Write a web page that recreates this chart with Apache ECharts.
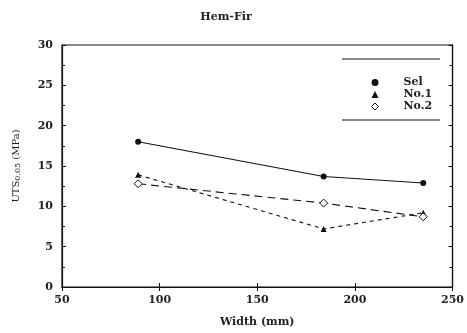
<!DOCTYPE html>
<html><head><meta charset="utf-8">
<script src="https://cdn.jsdelivr.net/npm/echarts@6/dist/echarts.min.js"></script>
<style>html,body{margin:0;padding:0;background:#fff}#c{width:467px;height:333px}</style>
</head><body><div id="c"></div>
<script>
const widths = [89, 184, 235];
const selValues = [18.0, 13.7, 12.9];
const no1Values = [13.9, 7.2, 9.2];
const no2Values = [12.8, 10.4, 8.7];
const seriesNames = ['Sel', 'No.1', 'No.2'];
const xTicks = [50, 100, 150, 200, 250];
const yTicks = [0, 5, 10, 15, 20, 25, 30];

const font = 'DejaVu Serif';
const pairs = v => widths.map((w, i) => [w, v[i]]);
const chart = echarts.init(document.getElementById('c'));
chart.setOption({
  animation: false,
  backgroundColor: '#fff',
  title: {text: 'Hem-Fir', left: 221, top: 7, textAlign: 'center',
    textStyle: {fontFamily: font, fontSize: 11, fontWeight: 'bold', color: '#222'}},
  grid: {left: 62, right: 13, top: 45, bottom: 46, show: true, borderColor: '#111', borderWidth: 1.2},
  legend: {
    orient: 'vertical', left: 366, top: 72, itemGap: 1, itemWidth: 7, itemHeight: 7,
    textStyle: {fontFamily: font, fontSize: 11, lineHeight: 11, fontWeight: 'bold', color: '#222', padding: [0, 0, 0, 20]},
    data: [
      {name: 'Sel', icon: 'circle', itemStyle: {color: '#111', borderWidth: 0}},
      {name: 'No.1', icon: 'triangle', itemStyle: {color: '#111', borderWidth: 0}},
      {name: 'No.2', icon: 'diamond', itemStyle: {color: '#fff', borderColor: '#111', borderWidth: 1}}
    ]
  },
  graphic: [
    {type: 'line', shape: {x1: 342, y1: 59, x2: 440, y2: 59}, style: {stroke: '#111', lineWidth: 1.2}},
    {type: 'line', shape: {x1: 342, y1: 120, x2: 440, y2: 120}, style: {stroke: '#111', lineWidth: 1.2}}
  ],
  xAxis: [{
    type: 'value', min: xTicks[0], max: xTicks[xTicks.length - 1], interval: 50,
    name: 'Width (mm)', nameLocation: 'middle', nameGap: 30,
    nameTextStyle: {fontFamily: font, fontSize: 11, fontWeight: 'bold', color: '#222'},
    axisLine: {lineStyle: {color: '#111', width: 1.2}},
    axisTick: {inside: true, length: 4, lineStyle: {color: '#111'}},
    axisLabel: {fontFamily: font, fontSize: 11, fontWeight: 'bold', color: '#222', margin: 8},
    splitLine: {show: false}
  }, {
    type: 'value', position: 'top', min: 50, max: 250, interval: 50,
    axisLine: {lineStyle: {color: '#111', width: 1.2}},
    axisTick: {inside: true, length: 4, lineStyle: {color: '#111'}},
    axisLabel: {show: false}, splitLine: {show: false}
  }],
  yAxis: [{
    type: 'value', min: yTicks[0], max: yTicks[yTicks.length - 1], interval: 5,
    name: '{a|UTS}{s|0.05}{a| (MPa)}', nameLocation: 'middle', nameGap: 40,
    nameTextStyle: {rich: {
      a: {fontFamily: font, fontSize: 10, color: '#222'},
      s: {fontFamily: font, fontSize: 8, color: '#222', verticalAlign: 'bottom', padding: [4, 0, 0, 0]}
    }},
    axisLine: {lineStyle: {color: '#111', width: 1.2}},
    axisTick: {inside: true, length: 4, lineStyle: {color: '#111'}},
    minorTick: {show: true, splitNumber: 2, length: 3, lineStyle: {color: '#111'}},
    axisLabel: {fontFamily: font, fontSize: 11, fontWeight: 'bold', color: '#222', margin: 9},
    splitLine: {show: false}
  }, {
    type: 'value', position: 'right', min: 0, max: 30, interval: 5,
    axisLine: {lineStyle: {color: '#111', width: 1.2}},
    axisTick: {inside: true, length: 4, lineStyle: {color: '#111'}},
    minorTick: {show: true, splitNumber: 2, length: 3, lineStyle: {color: '#111'}},
    axisLabel: {show: false}, splitLine: {show: false}
  }],
  series: [
    {name: seriesNames[0], type: 'line', data: pairs(selValues), symbol: 'circle', symbolSize: 6,
      itemStyle: {color: '#111'}, lineStyle: {color: '#111', width: 1.1, type: 'solid'}},
    {name: seriesNames[1], type: 'line', data: pairs(no1Values), symbol: 'triangle', symbolSize: 6,
      itemStyle: {color: '#111'}, lineStyle: {color: '#111', width: 1.1, type: [4, 4]}},
    {name: seriesNames[2], type: 'line', data: pairs(no2Values), symbol: 'diamond', symbolSize: 8,
      itemStyle: {color: '#fff', borderColor: '#111', borderWidth: 1}, lineStyle: {color: '#111', width: 1.1, type: [8, 5]}}
  ]
});
</script></body></html>
